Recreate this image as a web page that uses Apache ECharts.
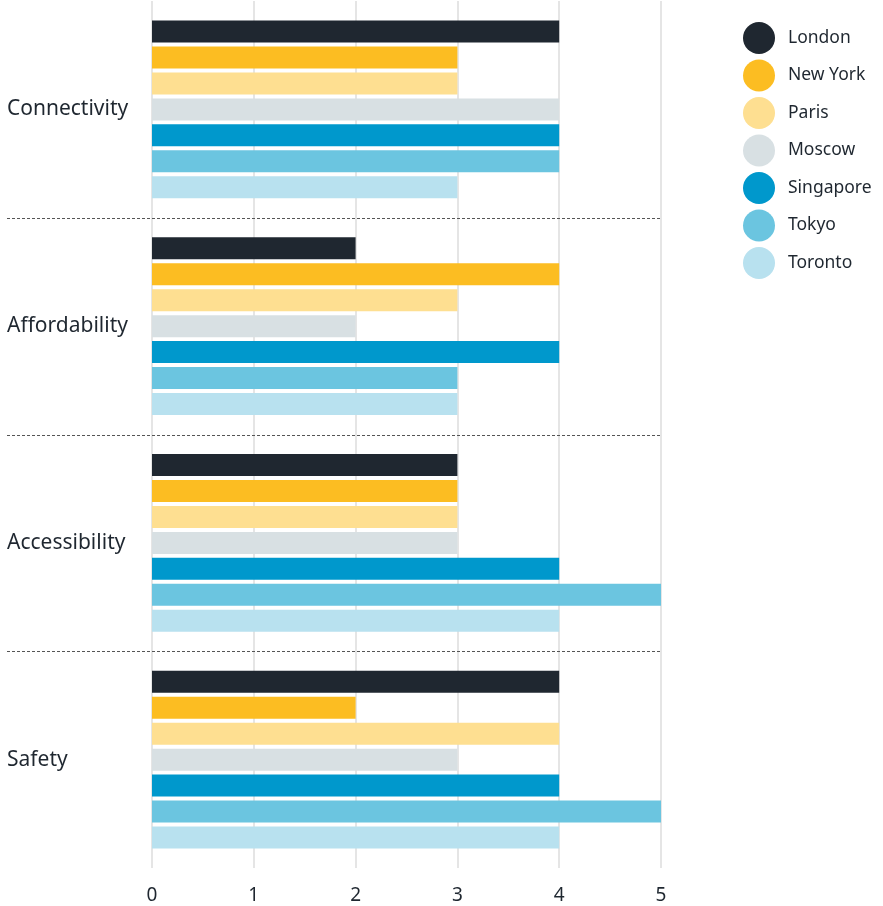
<!DOCTYPE html>
<html><head><meta charset="utf-8">
<script src="https://cdn.jsdelivr.net/npm/echarts@6/dist/echarts.min.js"></script>
<style>html,body{margin:0;padding:0;background:#fff}#c{width:883px;height:906px}</style>
</head><body><div id="c"></div>
<script>
const categories = ['Connectivity', 'Affordability', 'Accessibility', 'Safety'];
const seriesNames = ['London', 'New York', 'Paris', 'Moscow', 'Singapore', 'Tokyo', 'Toronto'];
const colors = ['#1f2730', '#fcbd22', '#fedf91', '#d8e0e3', '#0098cc', '#6bc5e0', '#b8e1ef'];
const london = [4, 2, 3, 4];
const newYork = [3, 4, 3, 2];
const paris = [3, 3, 3, 4];
const moscow = [4, 2, 3, 3];
const singapore = [4, 4, 4, 4];
const tokyo = [4, 3, 5, 5];
const toronto = [3, 3, 4, 4];
const xTicks = [0, 1, 2, 3, 4, 5];
const values = [london, newYork, paris, moscow, singapore, tokyo, toronto];

const font = '"Noto Sans", Lato, sans-serif';
const chart = echarts.init(document.getElementById('c'));
chart.setOption({
  animation: false,
  color: colors,
  grid: { left: 152, right: 222, top: 1, bottom: 38, containLabel: false },
  legend: {
    orient: 'vertical', left: 738, top: 17,
    icon: 'circle', itemWidth: 32, itemHeight: 32, itemGap: 5.5,
    textStyle: { fontFamily: font, fontSize: 17.5, color: '#1f2730', padding: [0, 0, 0, 8] },
    data: seriesNames
  },
  xAxis: {
    type: 'value', min: xTicks[0], max: xTicks[xTicks.length - 1], interval: 1,
    axisLine: { show: false }, axisTick: { show: false },
    splitLine: { show: true, lineStyle: { color: '#dcdcdc', width: 1.5 } },
    axisLabel: { fontFamily: font, fontSize: 19, color: '#1f2730', margin: 18 }
  },
  yAxis: {
    type: 'category', data: categories, inverse: true,
    axisLine: { show: false }, axisTick: { show: false },
    axisLabel: { fontFamily: font, fontSize: 21, color: '#1f2730', align: 'left', margin: 145, padding: [8, 0, 0, 0] }
  },
  series: seriesNames.map((n, i) => ({
    name: n, type: 'bar', data: values[i],
    barWidth: 22, barGap: '18%',
    itemStyle: { color: colors[i] }
  }))
});

// dashed separators between category bands
const ys = categories.map(c => chart.convertToPixel({ yAxisIndex: 0 }, c));
const xEnd = chart.convertToPixel({ xAxisIndex: 0 }, xTicks[xTicks.length - 1]);
const lines = [];
for (let i = 0; i < ys.length - 1; i++) {
  const y = Math.round((ys[i] + ys[i + 1]) / 2) + 0.5;
  lines.push({ type: 'line', shape: { x1: 7, y1: y, x2: xEnd, y2: y },
    style: { stroke: '#555', lineWidth: 1, lineDash: [3, 2] }, z: 10 });
}
chart.setOption({ graphic: lines });
</script></body></html>
